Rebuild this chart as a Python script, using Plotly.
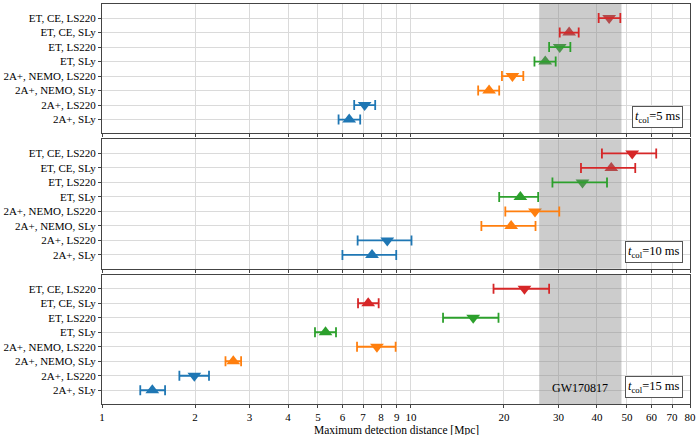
import numpy as np
import plotly.graph_objs as go
from plotly.subplots import make_subplots

# detector / EOS combinations, bottom to top
labels = ["2A+, SLy", "2A+, LS220", "2A+, NEMO, SLy", "2A+, NEMO, LS220",
          "ET, SLy", "ET, LS220", "ET, CE, SLy", "ET, CE, LS220"]
colors = ["#1f77b4", "#1f77b4", "#ff7f0e", "#ff7f0e",
          "#2ca02c", "#2ca02c", "#d62728", "#d62728"]
symbols = ["triangle-up", "triangle-down"] * 4

t_col = ["5 ms", "10 ms", "15 ms"]

# max detection distance [Mpc]: central value, lower and upper end
d5 = [6.31, 7.08, 17.9, 21.3, 27.2, 30.3, 32.5, 43.8]
d5_lo = [5.83, 6.55, 16.5, 19.7, 25.1, 28.0, 30.3, 40.5]
d5_hi = [6.85, 7.66, 19.3, 23.1, 29.4, 32.8, 34.9, 47.6]

d10 = [7.48, 8.38, 21.1, 25.2, 22.6, 35.9, 44.5, 52.0]
d10_lo = [6.0, 6.72, 16.9, 20.2, 19.3, 28.7, 35.5, 41.5]
d10_hi = [8.96, 10.04, 25.3, 30.2, 25.8, 43.1, 53.2, 62.2]

d15 = [1.455, 1.99, 2.66, 7.76, 5.29, 15.9, 7.27, 23.3]
d15_lo = [1.33, 1.78, 2.51, 6.69, 4.89, 12.7, 6.74, 18.5]
d15_hi = [1.60, 2.22, 2.82, 8.92, 5.72, 19.2, 7.86, 28.0]

# GW170817 distance band
gw_lo, gw_hi = 26, 48

xticks = [1, 2, 3, 4, 5, 6, 7, 8, 9, 10, 20, 30, 40, 50, 60, 70, 80]
xticktext = [str(v) for v in xticks]

panels = [(d5, d5_lo, d5_hi), (d10, d10_lo, d10_hi), (d15, d15_lo, d15_hi)]

font = "Liberation Serif"
ypos = list(range(len(labels)))
yrange = [-0.95, 7.97]

fig = make_subplots(rows=3, cols=1, shared_xaxes=True, vertical_spacing=0.015)

for i, (d, lo, hi) in enumerate(panels):
    row = i + 1
    # markers first, so the shaded band darkens them
    fig.add_trace(go.Scatter(x=d, y=ypos, mode="markers",
                             marker=dict(symbol=symbols, color=colors, size=12, line_width=0),
                             showlegend=False, hoverinfo="skip"), row=row, col=1)
    fig.add_trace(go.Scatter(x=[gw_lo, gw_hi, gw_hi, gw_lo], y=[-2, -2, 9, 9],
                             fill="toself", fillcolor="rgba(128,128,128,0.4)",
                             mode="none", showlegend=False, hoverinfo="skip"), row=row, col=1)
    for k in range(len(labels)):
        fig.add_trace(go.Scatter(x=[d[k]], y=[k], mode="markers",
                                 marker=dict(size=1, opacity=0),
                                 error_x=dict(type="data", symmetric=False,
                                              array=[hi[k] - d[k]], arrayminus=[d[k] - lo[k]],
                                              color=colors[k], thickness=1.8, width=5),
                                 showlegend=False, hoverinfo="skip"), row=row, col=1)
    ax = "" if row == 1 else str(row)
    fig.add_annotation(text="<i>t</i><sub>col</sub>=" + t_col[i],
                       xref=f"x{ax} domain", yref=f"y{ax} domain",
                       x=0.988, y=0.045, xanchor="right", yanchor="bottom", showarrow=False,
                       bordercolor="#555", borderwidth=1, borderpad=2, bgcolor="white",
                       font=dict(family=font, size=12.5, color="black"))
    fig.update_yaxes(range=yrange, tickvals=ypos, ticktext=labels, row=row, col=1)

fig.add_annotation(text="GW170817", x=np.log10(np.sqrt(gw_lo * gw_hi)), y=0.15,
                   xref="x3", yref="y3", showarrow=False,
                   font=dict(family=font, size=12, color="black"))
fig.add_annotation(text="Maximum detection distance [Mpc]", x=0.5, y=-0.066,
                   xref="paper", yref="paper", xanchor="center", yanchor="middle",
                   showarrow=False, font=dict(family=font, size=11.5, color="black"))

axis_style = dict(showline=True, mirror=True, linecolor="#444", linewidth=1,
                  ticks="outside", ticklen=3, tickcolor="#444", automargin=False,
                  showgrid=True, gridcolor="#dadada", gridwidth=1, zeroline=False,
                  tickfont=dict(family=font, size=11, color="black"))
fig.update_xaxes(type="log", range=[0, np.log10(80)], tickvals=xticks, ticktext=xticktext, **axis_style)
fig.update_yaxes(**axis_style)

fig.update_layout(width=696, height=435, margin=dict(l=102, r=6, t=4, b=31),
                  plot_bgcolor="white", paper_bgcolor="white",
                  font=dict(family=font, color="black"), showlegend=False)
fig.write_html("out.html", config={"displayModeBar": False},
               post_script="document.body.style.margin='0';")
